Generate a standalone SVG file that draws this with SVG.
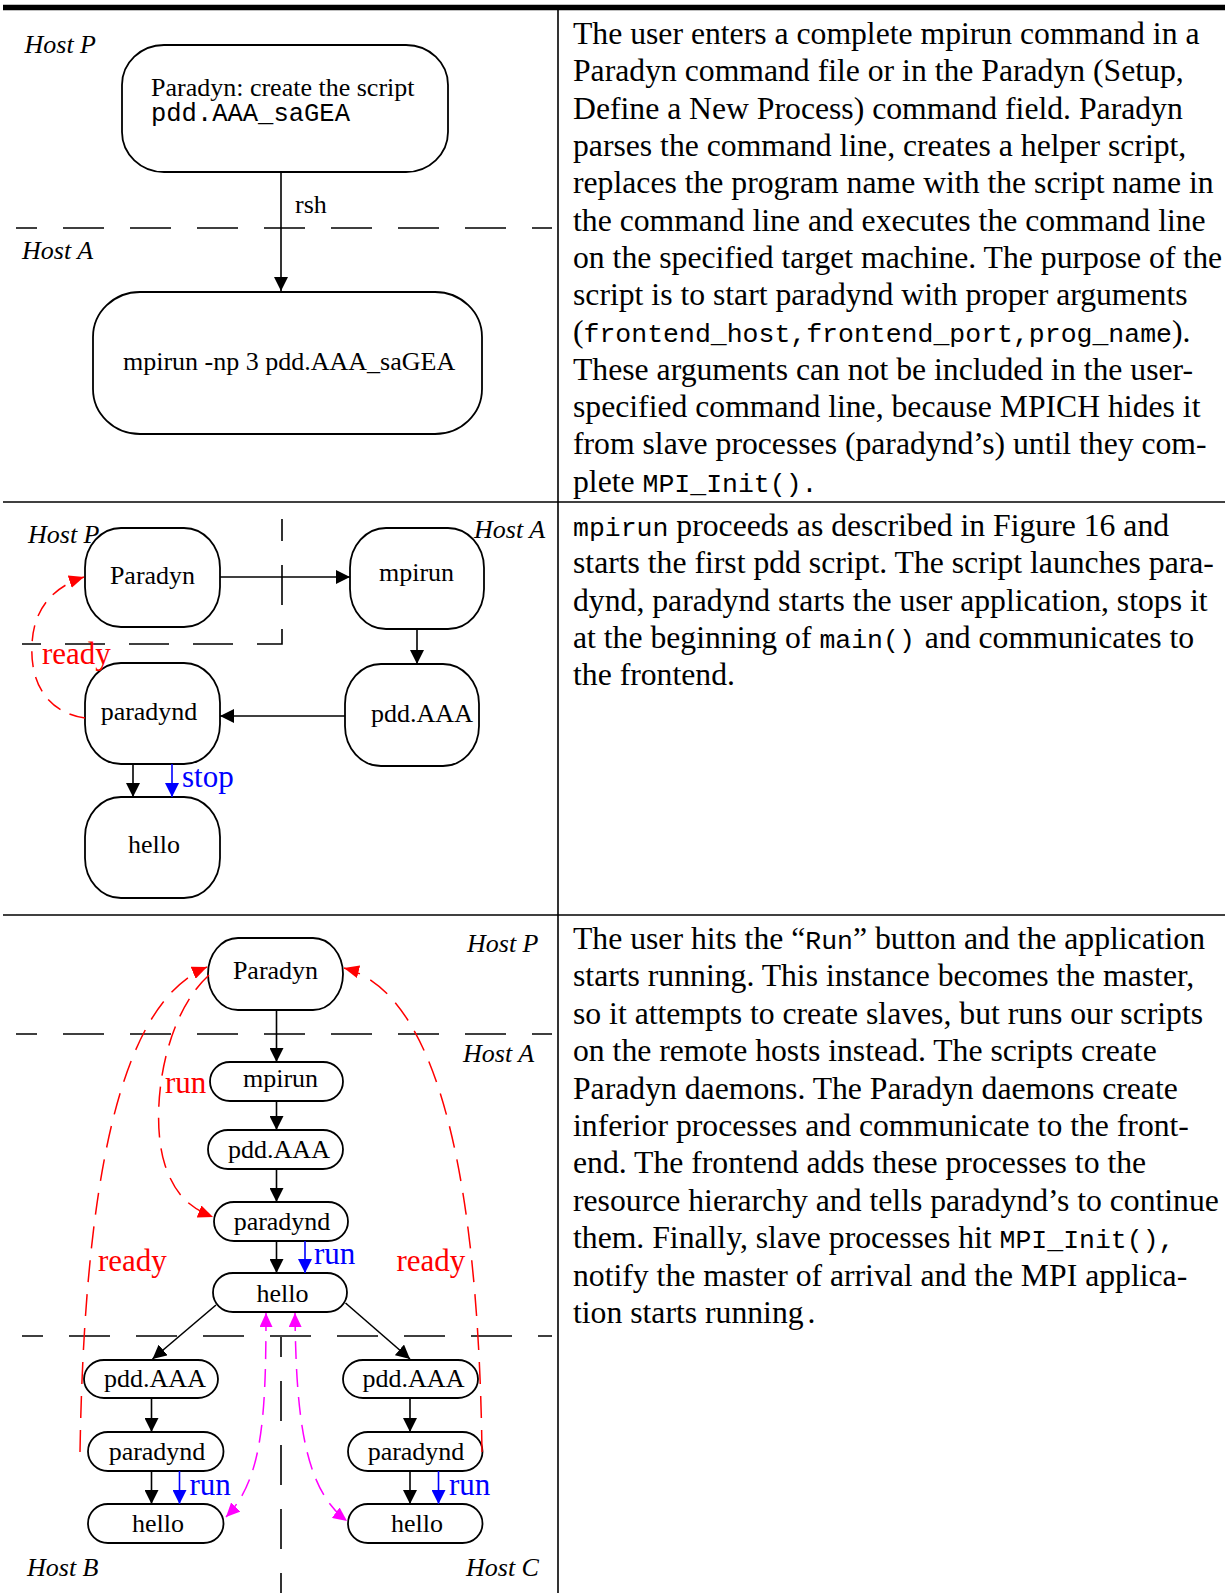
<svg xmlns="http://www.w3.org/2000/svg" width="1225" height="1593" viewBox="0 0 1225 1593">
<defs>
<style>
.nd{fill:#fff;stroke:#000;stroke-width:1.8}
.t{font-family:"Liberation Serif","Times New Roman",serif;font-size:26px;fill:#000}
.c{text-anchor:middle}
.h{font-family:"Liberation Serif","Times New Roman",serif;font-size:26px;font-style:italic;fill:#000}
.m{font-family:"Liberation Mono","Courier New",monospace}
.b{font-family:"Liberation Serif","Times New Roman",serif;font-size:31.7px;fill:#000}
.bm{font-family:"Liberation Mono","Courier New",monospace;font-size:26.5px}
.rl{font-family:"Liberation Serif","Times New Roman",serif;font-size:31px;fill:#f00}
.bl{font-family:"Liberation Serif","Times New Roman",serif;font-size:31px;fill:#00f}
.e{fill:none;stroke:#000;stroke-width:1.6;marker-end:url(#ak)}
.eb{fill:none;stroke:#00f;stroke-width:1.6;marker-end:url(#ab)}
.er{fill:none;stroke:#f00;stroke-width:1.5;stroke-dasharray:16 10;marker-end:url(#ar)}
.em{fill:none;stroke:#f0f;stroke-width:1.5;stroke-dasharray:18 10;marker-end:url(#am);marker-start:url(#am)}
.sep{fill:none;stroke:#000;stroke-width:1.6;stroke-dasharray:41 26;stroke-dashoffset:20}
.rule{stroke:#000;stroke-width:1.6}
</style>
<marker id="ak" viewBox="0 0 14 14" refX="14" refY="7" markerWidth="14" markerHeight="14" markerUnits="userSpaceOnUse" orient="auto"><path d="M0,0L14,7L0,14z" fill="#000"/></marker>
<marker id="ab" viewBox="0 0 14 14" refX="14" refY="7" markerWidth="14" markerHeight="14" markerUnits="userSpaceOnUse" orient="auto"><path d="M0,0L14,7L0,14z" fill="#00f"/></marker>
<marker id="ar" viewBox="0 0 15 13" refX="15" refY="6.5" markerWidth="15" markerHeight="13" markerUnits="userSpaceOnUse" orient="auto"><path d="M0,0L15,6.5L0,13z" fill="#f00"/></marker>
<marker id="am" viewBox="0 0 14 13" refX="14" refY="6.5" markerWidth="14" markerHeight="13" markerUnits="userSpaceOnUse" orient="auto-start-reverse"><path d="M0,0L14,6.5L0,13z" fill="#f0f"/></marker>
</defs>
<rect width="1225" height="1593" fill="#fff"/>

<g id="frame">
<line x1="3" y1="7.5" x2="1225" y2="7.5" stroke="#000" stroke-width="5.5"/>
<line class="rule" x1="558" y1="10" x2="558" y2="1593"/>
<line class="rule" x1="3" y1="502" x2="1225" y2="502"/>
<line class="rule" x1="3" y1="915" x2="1225" y2="915"/>
</g>

<g id="boundaries">
<path class="sep" d="M16,228H552"/>
<path class="sep" d="M282,519V644H22" style="stroke-dasharray:40 24;stroke-dashoffset:18"/>
<path class="sep" d="M16,1034H552"/>
<path class="sep" d="M22,1336H552"/>
<path class="sep" d="M281,1337V1593" style="stroke-dasharray:40 24;stroke-dashoffset:20"/>
</g>

<g id="hosts">
<text class="h" x="24.5" y="53">Host P</text>
<text class="h" x="22" y="259">Host A</text>
<text class="h" x="28" y="543">Host P</text>
<text class="h" x="474" y="538">Host A</text>
<text class="h" x="467" y="952">Host P</text>
<text class="h" x="463" y="1062">Host A</text>
<text class="h" x="27" y="1576">Host B</text>
<text class="h" x="466" y="1576">Host C</text>
</g>

<!-- Panel 1 -->
<g id="p1-paradyn">
<rect class="nd" x="122" y="45" width="326" height="127" rx="42" ry="40"/>
<text class="t" x="151" y="96">Paradyn: create the script</text>
<text class="t m" x="151" y="121" style="font-size:25.5px">pdd.AAA_saGEA</text>
</g>
<g id="p1-mpirun">
<rect class="nd" x="93" y="292" width="389" height="142" rx="47" ry="45"/>
<text class="t" x="123" y="370">mpirun -np 3 pdd.AAA_saGEA</text>
</g>

<!-- Panel 2 -->
<g id="p2-paradyn">
<rect class="nd" x="85" y="528" width="135" height="99" rx="36" ry="40"/>
<text class="t c" x="152.5" y="584">Paradyn</text>
</g>
<g id="p2-mpirun">
<rect class="nd" x="350" y="528" width="134" height="101" rx="36" ry="40"/>
<text class="t c" x="416.5" y="581">mpirun</text>
</g>
<g id="p2-pdd">
<rect class="nd" x="345" y="664" width="134" height="102" rx="36" ry="40"/>
<text class="t c" x="422" y="722">pdd.AAA</text>
</g>
<g id="p2-paradynd">
<rect class="nd" x="85" y="663" width="135" height="101" rx="36" ry="40"/>
<text class="t c" x="149" y="720">paradynd</text>
</g>
<g id="p2-hello">
<rect class="nd" x="85" y="797" width="135" height="101" rx="36" ry="40"/>
<text class="t c" x="154" y="853">hello</text>
</g>

<!-- Panel 3 -->
<g id="p3-paradyn">
<rect class="nd" x="208" y="938" width="135" height="72" rx="30" ry="36"/>
<text class="t c" x="275.5" y="979">Paradyn</text>
</g>
<g id="p3-mpirun">
<rect class="nd" x="210" y="1062" width="133" height="39" rx="20" ry="19.5"/>
<text class="t c" x="280.5" y="1087">mpirun</text>
</g>
<g id="p3-pdd">
<rect class="nd" x="208" y="1130" width="135" height="39" rx="20" ry="19.5"/>
<text class="t c" x="279" y="1158">pdd.AAA</text>
</g>
<g id="p3-paradynd">
<rect class="nd" x="214" y="1202" width="134" height="39" rx="20" ry="19.5"/>
<text class="t c" x="282" y="1230">paradynd</text>
</g>
<g id="p3-hello">
<rect class="nd" x="213" y="1273" width="134" height="39" rx="20" ry="19.5"/>
<text class="t c" x="282.5" y="1302">hello</text>
</g>
<g id="p3-pdd-b">
<rect class="nd" x="84" y="1360" width="134" height="38" rx="20" ry="19"/>
<text class="t c" x="155" y="1387">pdd.AAA</text>
</g>
<g id="p3-paradynd-b">
<rect class="nd" x="88" y="1432" width="135.5" height="39" rx="20" ry="19.5"/>
<text class="t c" x="157" y="1460">paradynd</text>
</g>
<g id="p3-hello-b">
<rect class="nd" x="88" y="1504" width="135.5" height="39" rx="20" ry="19.5"/>
<text class="t c" x="158" y="1532">hello</text>
</g>
<g id="p3-pdd-c">
<rect class="nd" x="343" y="1360" width="135" height="38" rx="20" ry="19"/>
<text class="t c" x="413.5" y="1387">pdd.AAA</text>
</g>
<g id="p3-paradynd-c">
<rect class="nd" x="348" y="1432" width="134.5" height="39" rx="20" ry="19.5"/>
<text class="t c" x="416" y="1460">paradynd</text>
</g>
<g id="p3-hello-c">
<rect class="nd" x="348" y="1504" width="134.5" height="39" rx="20" ry="19.5"/>
<text class="t c" x="417" y="1532">hello</text>
</g>

<g id="connectors">
<!-- panel 1 -->
<path class="e" d="M281,172V291"/>
<text class="t" x="295" y="213">rsh</text>
<!-- panel 2 -->
<path class="e" d="M220,577H350"/>
<path class="e" d="M417,629V664"/>
<path class="e" d="M345,716H220"/>
<path class="e" d="M133,764V797"/>
<path class="eb" d="M172,764V797"/>
<text class="bl" x="182" y="787">stop</text>
<path class="er" d="M85,718C45,712 30,680 32,645C33,612 50,588 84,577"/>
<text class="rl" x="42" y="664">ready</text>
<!-- panel 3 -->
<path class="e" d="M276.5,1010V1062"/>
<path class="e" d="M276.5,1101V1130"/>
<path class="e" d="M276.5,1169V1202"/>
<path class="e" d="M276.5,1241V1273"/>
<path class="eb" d="M305,1241V1273"/>
<text class="bl" x="314" y="1264">run</text>
<path class="e" d="M216,1305L152.5,1359"/>
<path class="e" d="M345.5,1303L410,1359"/>
<path class="e" d="M151.5,1398V1432"/>
<path class="e" d="M151.5,1471V1504"/>
<path class="eb" d="M179.5,1471V1504"/>
<text class="bl" x="189.5" y="1495">run</text>
<path class="e" d="M410,1398V1432"/>
<path class="e" d="M410,1471V1504"/>
<path class="eb" d="M438.5,1471V1504"/>
<text class="bl" x="449" y="1495">run</text>
<path class="er" style="stroke-dasharray:22 12" d="M80,1452C85,1150 128,1000 207,967"/>
<path class="er" style="stroke-dasharray:22 12" d="M482,1452C478,1150 430,990 344,968"/>
<path class="er" style="stroke-dasharray:20 11" d="M209,975C160,1020 150,1120 165,1165C175,1195 190,1208 213,1217"/>
<text class="rl" x="165" y="1093">run</text>
<text class="rl" x="98" y="1271">ready</text>
<text class="rl" x="396.5" y="1271">ready</text>
<path class="em" d="M266,1313C266,1420 262,1480 226,1517"/>
<path class="em" d="M295,1313C296,1420 305,1490 347,1521"/>
</g>

<g id="text1">
<text class="b" x="573" y="44">The user enters a complete mpirun command in a</text>
<text class="b" x="573" y="81.3">Paradyn command file or in the Paradyn (Setup,</text>
<text class="b" x="573" y="118.6">Define a New Process) command field. Paradyn</text>
<text class="b" x="573" y="155.9">parses the command line, creates a helper script,</text>
<text class="b" x="573" y="193.2">replaces the program name with the script name in</text>
<text class="b" x="573" y="230.5">the command line and executes the command line</text>
<text class="b" x="573" y="267.8">on the specified target machine. The purpose of the</text>
<text class="b" x="573" y="305.1">script is to start paradynd with proper arguments</text>
<text class="b" x="573" y="342.4">(<tspan class="bm">frontend_host,frontend_port,prog_name</tspan>).</text>
<text class="b" x="573" y="379.7">These arguments can not be included in the user-</text>
<text class="b" x="573" y="417">specified command line, because MPICH hides it</text>
<text class="b" x="573" y="454.3">from slave processes (paradynd’s) until they com-</text>
<text class="b" x="573" y="491.6">plete <tspan class="bm">MPI_Init().</tspan></text>
</g>
<g id="text2">
<text class="b" x="573" y="536"><tspan class="bm">mpirun</tspan> proceeds as described in Figure 16 and</text>
<text class="b" x="573" y="573.3">starts the first pdd script. The script launches para-</text>
<text class="b" x="573" y="610.6">dynd, paradynd starts the user application, stops it</text>
<text class="b" x="573" y="647.9">at the beginning of <tspan class="bm">main()</tspan><tspan dx="10">and communicates to</tspan></text>
<text class="b" x="573" y="685.2">the frontend.</text>
</g>
<g id="text3">
<text class="b" x="573" y="949">The user hits the “<tspan class="bm">Run</tspan>” button and the application</text>
<text class="b" x="573" y="986.4">starts running. This instance becomes the master,</text>
<text class="b" x="573" y="1023.8">so it attempts to create slaves, but runs our scripts</text>
<text class="b" x="573" y="1061.2">on the remote hosts instead. The scripts create</text>
<text class="b" x="573" y="1098.6">Paradyn daemons. The Paradyn daemons create</text>
<text class="b" x="573" y="1136">inferior processes and communicate to the front-</text>
<text class="b" x="573" y="1173.4">end. The frontend adds these processes to the</text>
<text class="b" x="573" y="1210.8">resource hierarchy and tells paradynd’s to continue</text>
<text class="b" x="573" y="1248.2">them. Finally, slave processes hit <tspan class="bm">MPI_Init(),</tspan></text>
<text class="b" x="573" y="1285.6">notify the master of arrival and the MPI applica-</text>
<text class="b" x="573" y="1323">tion starts running<tspan dx="4">.</tspan></text>
</g>
</svg>
